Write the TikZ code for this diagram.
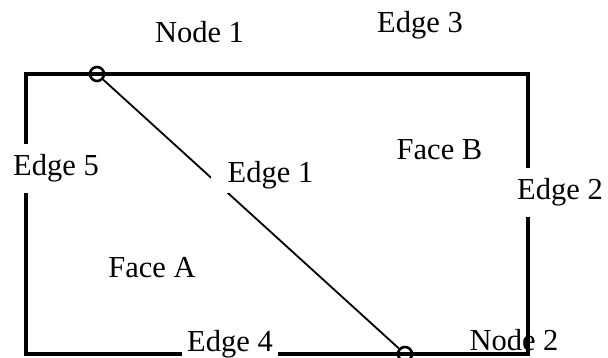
\documentclass[tikz,border=0pt]{standalone}
\usepackage{fontspec}
\setmainfont{Liberation Serif}
\begin{document}
\begin{tikzpicture}[x=1pt,y=-1pt,
  lbl/.style={font=\fontsize{30.5}{36}\selectfont, inner sep=0pt, anchor=base},
  cover/.style={lbl, fill=white},
  vertex/.style={circle, draw, line width=2.6pt, minimum size=14pt, inner sep=0pt},
  frame/.style={line width=3.4pt, line join=miter},
  diag/.style={line width=1.8pt}]
\useasboundingbox (0,0) rectangle (608,358);
% Node 2 label lies under the frame line
\node[lbl] (lnode2) at (514,350) {Node 2};
% frame corners
\coordinate (tl) at (26,74);
\coordinate (tr) at (528,74);
\coordinate (br) at (528,354);
\coordinate (bl) at (26,354);
\draw[frame] (tl) -- (tr) -- (br) -- (bl) -- cycle;
% vertices
\node[vertex] (n1) at (97,74) {};
\node[vertex] (n2) at (405,354) {};
\draw[diag] (n1) -- (n2);
% labels
\node[lbl] (lnode1) at (199.5,43) {Node 1};
\node[lbl] (le3) at (420,33) {Edge 3};
\node[cover, inner ysep=10.5pt, inner xsep=3pt] (le5) at (56,176) {Edge 5};
\node[cover, inner ysep=3.5pt, inner xsep=17pt] (le1) at (270.5,183) {Edge 1};
\node[cover, inner ysep=10.5pt, inner xsep=17pt] (le2) at (560,200) {Edge 2};
\node[cover, inner ysep=4pt, inner xsep=5pt] (le4) at (230,351) {Edge 4};
\node[lbl] (lfa) at (152,277) {Face A};
\node[lbl] (lfb) at (439.5,160) {Face B};
\end{tikzpicture}
\end{document}
